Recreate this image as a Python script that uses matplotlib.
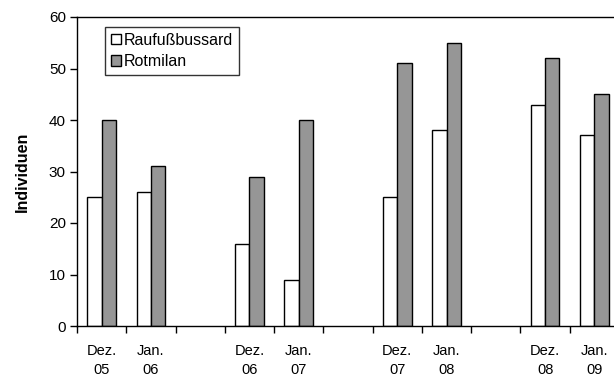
import numpy as np
import matplotlib
matplotlib.use("Agg")
import matplotlib.pyplot as plt

plt.rcParams['font.family'] = ['Liberation Sans', 'DejaVu Sans']

# Monthly counts; empty slots separate the winters
months = ["Dez.\n05", "Jan.\n06", "", "Dez.\n06", "Jan.\n07", "",
          "Dez.\n07", "Jan.\n08", "", "Dez.\n08", "Jan.\n09"]
raufussbussard = [25, 26, np.nan, 16, 9, np.nan, 25, 38, np.nan, 43, 37]
rotmilan = [40, 31, np.nan, 29, 40, np.nan, 51, 55, np.nan, 52, 45]
series_names = ["Raufußbussard", "Rotmilan"]
y_ticks = [0, 10, 20, 30, 40, 50, 60]

fig = plt.figure(figsize=(6.14, 3.78), dpi=100)
ax = fig.add_axes([77 / 614, 52 / 378, 542 / 614, 309 / 378])

x = np.arange(len(months))
w = 0.29
ax.bar(x - w / 2, raufussbussard, width=w, color="white", edgecolor="black",
       linewidth=1.0, label=series_names[0], zorder=2)
ax.bar(x + w / 2, rotmilan, width=w, color="#969696", edgecolor="black",
       linewidth=1.0, label=series_names[1], zorder=2)

ax.set_xlim(-0.5, len(months) - 0.5)
ax.set_ylim(0, 60)
ax.set_yticks(y_ticks)

# category boundaries carry the tick marks, labels sit at centres
ax.set_xticks(np.arange(-0.5, len(months), 1.0))
ax.set_xticklabels([])
ax.set_xticks(x, minor=True)
ax.set_xticklabels(months, minor=True, fontsize=10.5, linespacing=1.42)
ax.tick_params(axis="x", which="major", direction="out", length=5, width=1)
ax.tick_params(axis="x", which="minor", length=0, pad=13)
ax.tick_params(axis="y", direction="out", length=5, width=1, labelsize=11, pad=3)

for side in ["left", "bottom", "top"]:
    ax.spines[side].set_linewidth(1.0)
ax.spines["right"].set_visible(False)

ax.set_ylabel("Individuen", fontsize=11.5, fontweight="bold", labelpad=14)

leg = ax.legend(loc="upper left", bbox_to_anchor=(28 / 542, 1 - 10 / 309),
                frameon=True, fancybox=False, fontsize=11.5, handlelength=0.65,
                handleheight=0.65, handletextpad=0.2, borderpad=0.35,
                labelspacing=0.4, borderaxespad=0)
leg.get_frame().set_edgecolor("black")
leg.get_frame().set_linewidth(1.0)

fig.savefig("out.png", dpi=100)
